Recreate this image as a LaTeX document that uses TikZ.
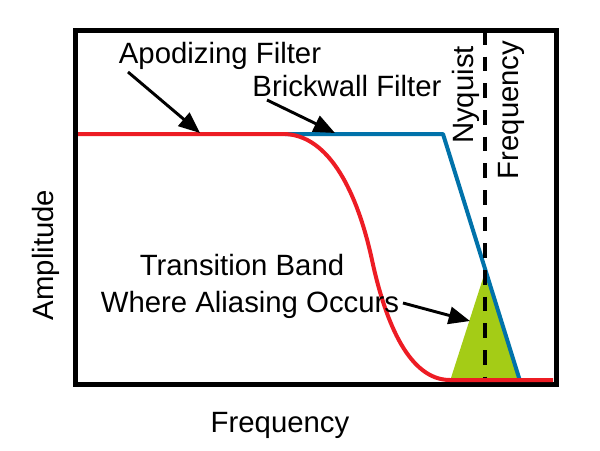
\documentclass[tikz,border=0pt]{standalone}
\usepackage{fontspec}
\setmainfont{Liberation Sans}
\usetikzlibrary{arrows.meta}
\definecolor{apodred}{RGB}{237,28,36}
\definecolor{brickblue}{RGB}{0,114,170}
\definecolor{aliasgreen}{RGB}{164,204,22}

\begin{document}
\begin{tikzpicture}[
    x=0.75pt, y=-0.75pt,
    lbl/.style={font=\fontsize{22}{26}\selectfont, inner sep=0pt},
    pointer/.style={-{Triangle[length=16pt, width=13pt]}, line width=2.2pt},
    filterline/.style={line width=3pt, line join=round},
]
    \useasboundingbox (0,0) rectangle (600,450);
    \draw[line width=3.75pt] (75,30) rectangle (556,384);
    \fill[aliasgreen] (485,272) -- (450,381) -- (521,381) -- cycle;
    \draw[brickblue, filterline] (285,134) -- (443,134) -- (520,381);
    \draw[line width=3.4pt, dash pattern=on 11pt off 9pt] (485,30) -- (485,380);
    \draw[apodred, filterline] (78,134) -- (283,134)
        .. controls (330,134) and (358,195) .. (372,260)
        .. controls (386,325) and (410,380) .. (450,380) -- (553,380);
    \node[lbl, anchor=base] (apod) at (220,63) {Apodizing Filter};
    \node[lbl, anchor=base] (brick) at (347,96) {Brickwall Filter};
    \node[lbl, anchor=base, rotate=90] (nyq) at (473,95) {Nyquist};
    \node[lbl, anchor=base, rotate=90] (nyqfreq) at (518,110) {Frequency};
    \node[lbl, anchor=base, rotate=90] (amp) at (53,255) {Amplitude};
    \node[lbl, anchor=base] (freq) at (280,432) {Frequency};
    \node[lbl, anchor=base] (trans) at (242,275) {Transition Band};
    \node[lbl, anchor=base] (alias) at (250,312) {Where Aliasing Occurs};
    \coordinate (apodtail) at (128,72);
    \coordinate (apodtip) at (200,133);
    \coordinate (bricktail) at (267,100);
    \coordinate (bricktip) at (335,133);
    \coordinate (aliastail) at (403,303);
    \coordinate (aliastip) at (470,321);
    \draw[pointer] (apodtail) -- (apodtip);
    \draw[pointer] (bricktail) -- (bricktip);
    \draw[pointer] (aliastail) -- (aliastip);
\end{tikzpicture}
\end{document}
